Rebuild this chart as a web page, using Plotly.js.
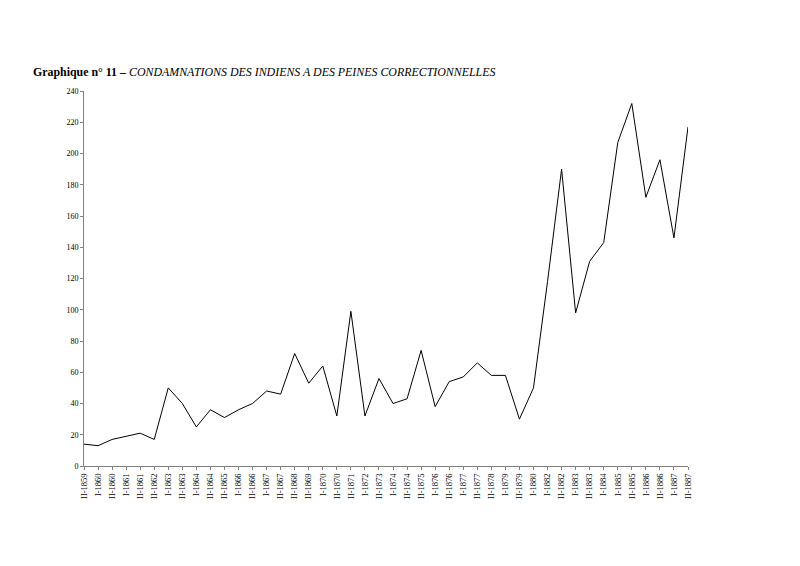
<!DOCTYPE html>
<html>
<head>
<meta charset="utf-8">
<script src="https://cdn.plot.ly/plotly-3.0.1.min.js"></script>
<style>html,body{margin:0;padding:0;background:#fff;}#chart{width:800px;height:566px;}</style>
</head>
<body>
<div id="chart"></div>
<script>
const periods = ["II-1859","I-1860","II-1860","I-1861","II-1861","II-1862","I-1863","II-1863","I-1864","II-1864",
  "II-1865","I-1866","II-1866","I-1867","II-1867","II-1868","II-1869","I-1870","II-1870","II-1871",
  "I-1872","II-1873","I-1874","II-1874","II-1875","I-1876","II-1876","I-1877","II-1877","II-1878",
  "I-1879","II-1879","I-1880","I-1882","II-1882","I-1883","II-1883","I-1884","I-1885","II-1885",
  "I-1886","II-1886","I-1887","II-1887"];
const condamnations = [14,13,17,19,21,17,50,40,25,36,
  31,36,40,48,46,72,53,64,32,99,
  32,56,40,43,74,38,54,57,66,58,
  58,30,50,118,190,98,131,143,207,232,
  172,196,146,217];
const yTicks = [0,20,40,60,80,100,120,140,160,180,200,220,240];

const trace = {
  x: periods.map((_, i) => i),
  y: condamnations,
  type: 'scatter',
  mode: 'lines',
  line: {color: '#000', width: 1},
  hoverinfo: 'skip'
};

const layout = {
  width: 800, height: 566,
  margin: {l: 84, r: 112, t: 91, b: 100},
  paper_bgcolor: '#fff', plot_bgcolor: '#fff',
  showlegend: false,
  title: {
    text: '<b>Graphique n° 11 –</b> <i>CONDAMNATIONS DES INDIENS A DES PEINES CORRECTIONNELLES</i>',
    font: {family: 'Liberation Serif, serif', size: 11.9, color: '#000'},
    xref: 'container', yref: 'container',
    x: 33/800, xanchor: 'left',
    y: 1 - 72/566, yanchor: 'middle'
  },
  xaxis: {
    range: [0, periods.length - 1],
    tickmode: 'array',
    tickvals: periods.map((_, i) => i),
    ticktext: periods,
    tickangle: -90,
    tickfont: {family: 'Liberation Serif, serif', size: 8.5, color: '#000'},
    ticks: 'outside', ticklen: 3, tickcolor: '#808080',
    showline: true, linecolor: '#808080', linewidth: 1,
    showgrid: false, zeroline: false, fixedrange: true
  },
  yaxis: {
    range: [0, 240],
    tickmode: 'array',
    tickvals: yTicks,
    tickfont: {family: 'Liberation Serif, serif', size: 8, color: '#000'},
    ticks: 'outside', ticklen: 3, tickcolor: '#808080',
    showline: true, linecolor: '#808080', linewidth: 1,
    showgrid: false, zeroline: false, fixedrange: true
  }
};

Plotly.newPlot('chart', [trace], layout, {displayModeBar: false, staticPlot: true});
</script>
</body>
</html>
